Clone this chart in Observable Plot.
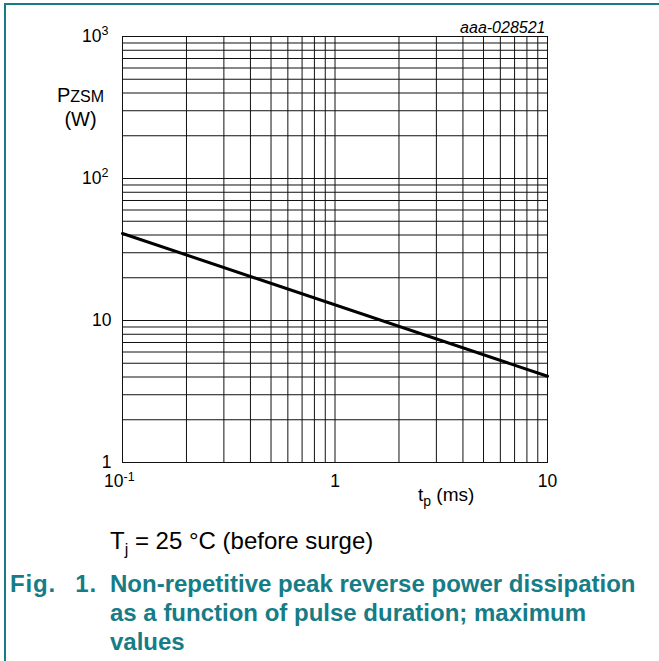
<!DOCTYPE html>
<html>
<head>
<meta charset="utf-8">
<script src="https://cdn.jsdelivr.net/npm/d3@7"></script>
<script src="https://cdn.jsdelivr.net/npm/@observablehq/plot@0.6"></script>
<style>
  html, body { margin: 0; padding: 0; background: #fff; }
  #page { position: relative; width: 659px; height: 661px; overflow: hidden; font-family: "Liberation Sans", Arial, sans-serif; }
  #topline { position: absolute; left: 4px; top: 3px; width: 655px; height: 2px; background: #167c86; }
  #leftline { position: absolute; left: 4px; top: 3px; width: 2px; height: 658px; background: #167c86; }
  #chart { position: absolute; left: 0; top: 0; }
  .abs { position: absolute; white-space: nowrap; color: #000; }
  #ylab { left: 57px; top: 84px; font-size: 20px; line-height: 23px; text-align: center; }
  #xlab { left: 418px; top: 484px; font-size: 19px; }
  #cond { left: 110px; top: 527px; font-size: 24px; }
  .cap { color: #167c86; font-weight: bold; font-size: 24px; line-height: 29px; }
  #fig { left: 10px; top: 569px; letter-spacing: 0.8px; word-spacing: 12px; }
  #captext { left: 110px; top: 569px; }
</style>
</head>
<body>
<div id="page">
  <div id="topline"></div>
  <div id="leftline"></div>
  <div id="chart"></div>
  <div class="abs" id="ylab">P<span style="font-size:16px">ZSM</span><br>(W)</div>
  <div class="abs" id="xlab">t<sub style="font-size:14px">p</sub> (ms)</div>
  <div class="abs" id="cond">T<sub style="font-size:16px">j</sub> = 25 °C (before surge)</div>
  <div class="abs cap" id="fig">Fig. 1.</div>
  <div class="abs cap" id="captext">Non-repetitive peak reverse power dissipation<br>as a function of pulse duration; maximum<br>values</div>
</div>
<script>
// Data
const tp = [0.1, 10];            // pulse duration (ms)
const pzsm = [41, 4.05];         // max peak reverse power (W)

const xGrid = [0.1, 0.2, 0.3, 0.4, 0.5, 0.6, 0.7, 0.8, 0.9, 1, 2, 3, 4, 5, 6, 7, 8, 9, 10];
const yGrid = [1, 2, 3, 4, 5, 6, 7, 8, 9, 10, 20, 30, 40, 50, 60, 70, 80, 90,
               100, 200, 300, 400, 500, 600, 700, 800, 900, 1000];

const yTickVals = [1, 10, 100, 1000];
const yTickBase = ["1", "10", "10", "10"];
const yTickExp = ["", "", "2", "3"];

const xTickVals = [0.1, 1, 10];
const xTickBase = ["10", "1", "10"];
const xTickExp = ["-1", "", ""];

const code = "aaa-028521";

const lineData = tp.map((t, i) => ({t, p: pzsm[i]}));
const yi = d3.range(yTickVals.length);
const xi = d3.range(xTickVals.length);

const chart = Plot.plot({
  width: 659,
  height: 520,
  marginLeft: 122,
  marginRight: 112,
  marginTop: 36,
  marginBottom: 58,
  style: {fontFamily: "'Liberation Sans', Arial, sans-serif", background: "transparent"},
  x: {type: "log", domain: [0.1, 10], axis: null},
  y: {type: "log", domain: [1, 1000], axis: null},
  marks: [
    Plot.ruleX(xGrid, {x: d => d, stroke: "#111", strokeWidth: 1}),
    Plot.ruleY(yGrid, {y: d => d, stroke: "#111", strokeWidth: 1}),
    Plot.frame({stroke: "#111", strokeWidth: 1}),
    Plot.line(lineData, {x: "t", y: "p", stroke: "#000", strokeWidth: 3}),
    // y tick labels without exponent
    Plot.text(yi, {filter: i => yTickExp[i] === "", y: i => yTickVals[i], text: i => yTickBase[i],
      frameAnchor: "left", textAnchor: "end", dx: -11, fontSize: 17.5, fill: "#000"}),
    // y tick labels with exponent
    Plot.text(yi, {filter: i => yTickExp[i] !== "", y: i => yTickVals[i], text: i => yTickBase[i],
      frameAnchor: "left", textAnchor: "end", dx: -21, fontSize: 17.5, fill: "#000"}),
    Plot.text(yi, {filter: i => yTickExp[i] !== "", y: i => yTickVals[i], text: i => yTickExp[i],
      frameAnchor: "left", textAnchor: "start", dx: -21, dy: -6, fontSize: 12.5, fill: "#000"}),
    // x tick labels
    Plot.text(xi, {filter: i => xTickExp[i] === "", x: i => xTickVals[i], text: i => xTickBase[i],
      frameAnchor: "bottom", textAnchor: "middle", dy: 24, fontSize: 17.5, fill: "#000"}),
    Plot.text(xi, {filter: i => xTickExp[i] !== "", x: i => xTickVals[i], text: i => xTickBase[i],
      frameAnchor: "bottom", textAnchor: "end", dx: 1, dy: 24, fontSize: 17.5, fill: "#000"}),
    Plot.text(xi, {filter: i => xTickExp[i] !== "", x: i => xTickVals[i], text: i => xTickExp[i],
      frameAnchor: "bottom", textAnchor: "start", dx: 1, dy: 18, fontSize: 12.5, fill: "#000"}),
    // figure code
    Plot.text([code], {text: d => d, frameAnchor: "top-right", textAnchor: "end", dx: -2, dy: -15,
      fontSize: 16, fontStyle: "italic", fill: "#000"})
  ]
});
document.getElementById("chart").appendChild(chart);
</script>
</body>
</html>
